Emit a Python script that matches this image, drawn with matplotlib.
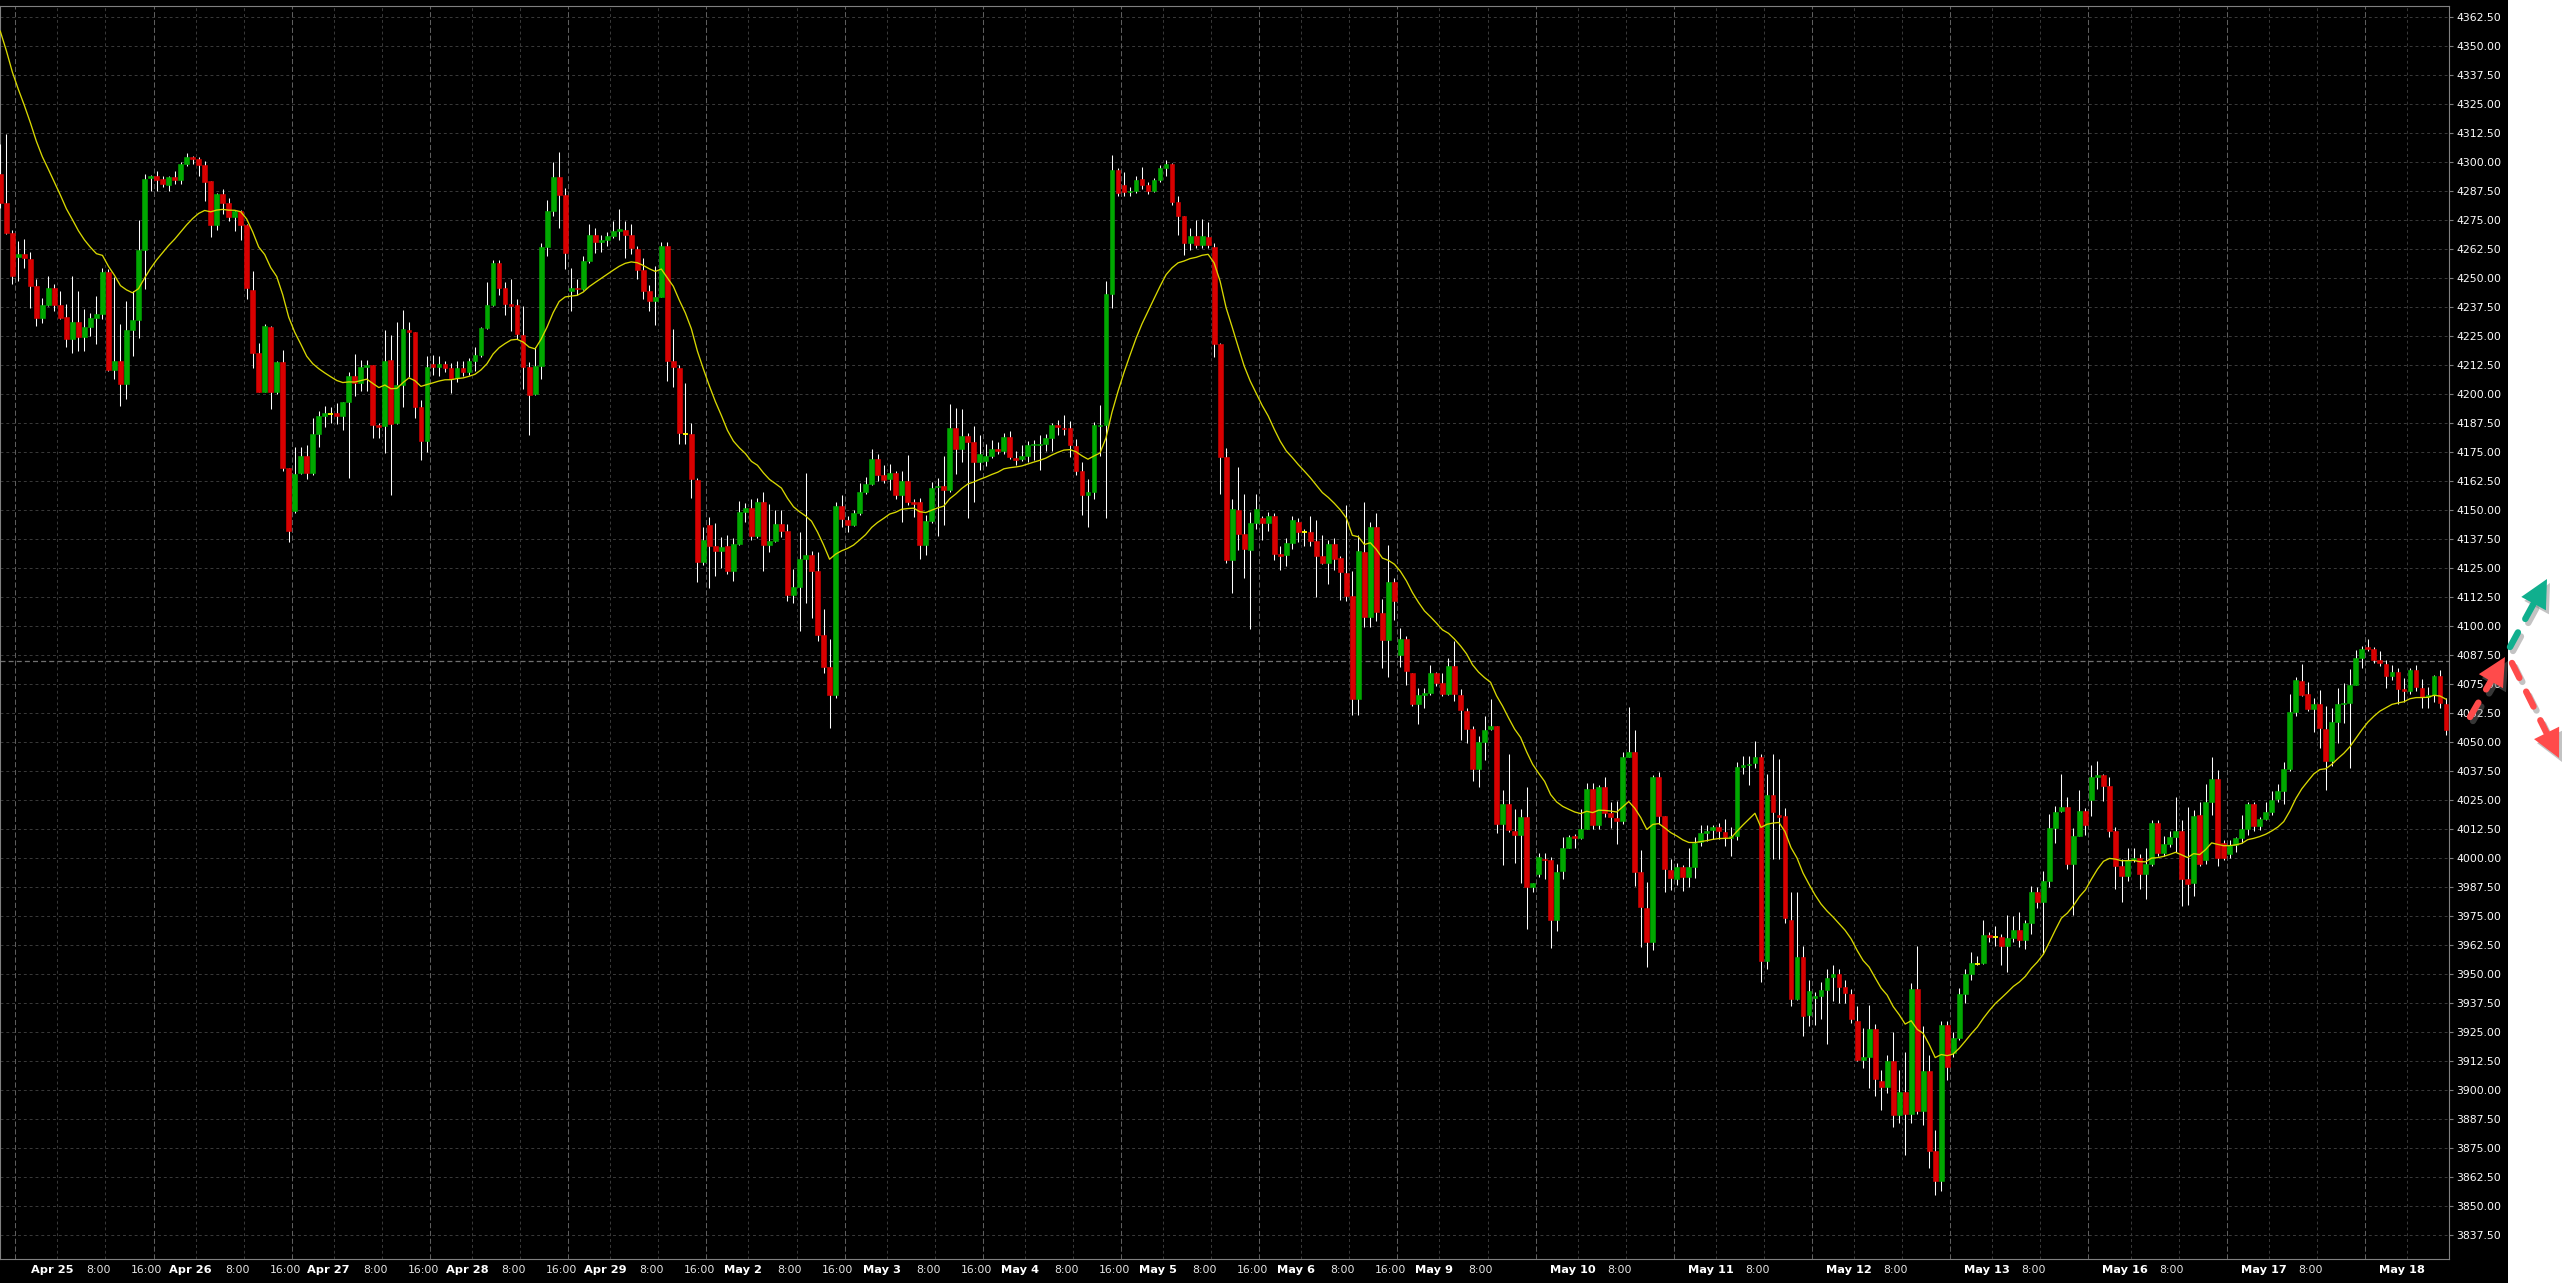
"""
plot.py
Hourly ES futures candles (Apr 22 - May 18) with EMA-20, MT4-style black chart.
"""

import numpy as np
import pandas as pd
import matplotlib
matplotlib.use("Agg")
import matplotlib.pyplot as plt
import matplotlib.transforms as mtransforms
from matplotlib.lines import Line2D
from matplotlib.patches import Polygon, Rectangle

# --- Data: hourly OHLC, one line per trading day (Apr 22 tail, Apr 25 ... May 18) ---
opens = [
    4294.7, 4282.2, 4269.3,
    4258.8, 4260.2, 4258.3, 4246.3, 4232.9, 4238.3, 4245.5, 4238.3, 4233.2, 4223.6, 4231.0, 4224.6, 4228.9, 4232.9, 4234.3, 4252.6, 4210.2, 4214.2, 4204.4, 4227.4, 4231.7, 4262.1, 4293.0,
    4294.0, 4292.5, 4290.1, 4293.5, 4292.2, 4299.0, 4302.2, 4301.3, 4298.7, 4291.8, 4272.8, 4286.3, 4282.3, 4276.0, 4278.6, 4272.8, 4244.7, 4217.4, 4201.0, 4228.9, 4201.0, 4213.8, 4167.9,
    4149.5, 4166.0, 4173.2, 4166.0, 4182.6, 4190.4, 4191.5, 4191.8, 4190.6, 4196.5, 4207.8, 4204.6, 4211.6, 4212.3, 4186.8, 4186.2, 4214.7, 4187.6, 4203.8, 4227.7, 4226.7, 4194.2, 4179.8,
    4213.0, 4211.6, 4213.0, 4211.2, 4206.7, 4211.2, 4209.5, 4214.2, 4216.8, 4228.4, 4238.4, 4256.5, 4245.7, 4238.8, 4238.3, 4225.4, 4211.6, 4199.8, 4211.9, 4263.4, 4278.7, 4293.4, 4285.6,
    4244.2, 4245.7, 4245.2, 4257.3, 4268.4, 4265.3, 4266.5, 4268.1, 4270.2, 4270.5, 4268.3, 4262.4, 4253.2, 4244.5, 4240.2, 4241.9, 4263.6, 4214.2, 4211.2, 4182.8, 4182.8, 4163.0, 4127.5,
    4143.6, 4134.4, 4132.2, 4134.4, 4123.9, 4135.3, 4149.2, 4151.0, 4138.9, 4153.4, 4134.8, 4136.6, 4143.8, 4141.1, 4113.5, 4116.6, 4128.9, 4130.4, 4123.5, 4096.0, 4082.4, 4070.1, 4151.6,
    4145.6, 4143.4, 4148.5, 4157.9, 4161.2, 4171.9, 4165.2, 4163.4, 4165.9, 4156.5, 4162.5, 4153.4, 4153.4, 4134.8, 4145.3, 4159.7, 4160.5, 4158.7, 4185.1, 4176.4, 4181.9, 4179.3, 4170.6,
    4171.0, 4173.3, 4176.1, 4175.5, 4181.5, 4172.4, 4172.1, 4173.2, 4177.9, 4177.9, 4178.6, 4181.2, 4186.6, 4185.5, 4185.1, 4177.5, 4166.6, 4156.5, 4157.9, 4186.1, 4186.6, 4243.1, 4296.6,
    4289.9, 4287.0, 4287.5, 4292.4, 4289.9, 4287.5, 4292.0, 4297.1, 4298.9, 4282.6, 4276.6, 4264.8, 4268.1, 4264.0, 4267.6, 4263.4, 4221.4, 4172.9, 4128.5, 4149.8, 4139.7, 4132.7, 4144.3,
    4146.6, 4144.4, 4147.5, 4131.0, 4130.7, 4135.9, 4144.9, 4140.3, 4140.3, 4136.6, 4130.2, 4127.2, 4135.2, 4129.2, 4122.7, 4113.1, 4068.5, 4131.9, 4103.7, 4142.8, 4105.4, 4093.8, 4118.8,
    4087.3, 4094.5, 4079.6, 4066.5, 4070.4, 4071.2, 4079.9, 4075.4, 4070.7, 4082.8, 4070.2, 4063.2, 4055.6, 4038.4, 4050.1, 4055.6, 4056.8, 4014.6, 4023.3, 4011.6, 4009.9, 4017.6, 3987.4,
    3993.1, 3999.8, 3999.2, 3973.5, 3994.5, 4004.5, 4009.5, 4008.7, 4012.6, 4029.7, 4014.2, 4030.5, 4019.3, 4017.1, 4015.9, 4043.4, 4045.9, 3994.1, 3978.6, 3964.0, 4035.0, 4018.3, 3994.8,
    3990.8, 3996.1, 3991.9, 3996.1, 4007.0, 4010.9, 4012.1, 4013.3, 4011.1, 4008.8, 4009.7, 4039.2, 4040.2, 4040.8, 4043.5, 3955.6, 4027.3, 4018.6, 4018.2, 3973.4, 3939.1, 3957.2, 3932.5,
    3939.9, 3940.4, 3943.0, 3949.0, 3950.2, 3944.4, 3941.5, 3930.0, 3913.0, 3914.3, 3926.2, 3904.1, 3901.5, 3912.4, 3889.3, 3899.2, 3889.9, 3943.7, 3890.9, 3908.1, 3873.9, 3860.8, 3927.9,
    3916.0, 3922.6, 3941.6, 3950.1, 3954.4, 3954.8, 3966.8, 3966.1, 3966.1, 3962.2, 3965.5, 3969.1, 3964.6, 3972.1, 3985.6, 3981.1, 3990.2, 4013.0, 4020.2, 4022.0, 3997.6, 4009.7, 4020.2,
    4025.2, 4035.1, 4035.6, 4031.0, 4011.6, 3996.5, 3992.2, 3999.3, 4000.1, 3993.2, 3997.6, 4015.3, 4002.1, 4005.9, 4009.2, 4011.7, 3991.1, 3989.2, 4018.6, 3999.0, 4024.3, 4033.9, 4006.4,
    4001.8, 4005.7, 4008.6, 4012.4, 4023.3, 4013.9, 4016.7, 4019.8, 4025.3, 4029.1, 4038.4, 4062.8, 4076.4, 4070.6, 4064.2, 4066.3, 4055.6, 4042.0, 4058.5, 4066.3, 4066.9, 4074.5, 4086.0,
    4091.0, 4090.3, 4085.3, 4083.8, 4078.5, 4080.1, 4072.8, 4072.2, 4081.0, 4073.5, 4069.5, 4070.2, 4078.4, 4066.6,
]
highs = [
    4307.6, 4311.9, 4270.5,
    4266.0, 4266.7, 4261.3, 4249.4, 4241.5, 4250.9, 4247.3, 4244.4, 4238.7, 4250.9, 4244.4, 4236.5, 4235.0, 4242.2, 4254.4, 4254.0, 4250.2, 4230.0, 4240.1, 4244.4, 4274.9, 4294.7, 4294.4,
    4296.1, 4294.0, 4294.0, 4296.1, 4299.7, 4303.6, 4302.6, 4302.2, 4300.4, 4291.8, 4286.7, 4288.1, 4284.6, 4279.2, 4279.2, 4273.0, 4253.0, 4222.1, 4230.0, 4229.3, 4214.2, 4218.8, 4168.0,
    4176.9, 4176.9, 4177.8, 4189.4, 4192.5, 4194.6, 4194.2, 4196.0, 4196.5, 4209.5, 4217.1, 4214.7, 4214.7, 4212.3, 4187.3, 4227.7, 4225.4, 4231.0, 4236.2, 4231.0, 4226.7, 4197.3, 4216.4,
    4216.8, 4216.4, 4214.3, 4213.3, 4214.2, 4214.3, 4215.4, 4220.2, 4228.9, 4248.0, 4257.5, 4257.5, 4248.0, 4249.5, 4241.0, 4237.9, 4213.6, 4220.2, 4264.8, 4283.4, 4299.7, 4304.0, 4288.7,
    4254.3, 4249.7, 4259.3, 4273.1, 4271.4, 4268.4, 4269.7, 4274.3, 4279.5, 4274.3, 4273.1, 4263.6, 4258.7, 4247.1, 4254.9, 4265.3, 4265.3, 4228.0, 4212.4, 4204.6, 4187.3, 4163.9, 4142.6,
    4147.1, 4144.3, 4138.2, 4139.1, 4138.0, 4154.0, 4152.9, 4154.7, 4155.2, 4157.9, 4152.5, 4149.8, 4149.8, 4143.8, 4124.4, 4140.7, 4166.1, 4132.2, 4131.7, 4107.2, 4094.2, 4153.4, 4156.5,
    4147.4, 4149.8, 4161.6, 4164.3, 4176.4, 4174.2, 4169.2, 4169.7, 4166.6, 4166.6, 4173.7, 4154.7, 4155.2, 4148.0, 4161.9, 4163.7, 4173.3, 4195.6, 4193.8, 4193.3, 4183.3, 4186.0, 4182.4,
    4178.2, 4180.0, 4179.3, 4183.3, 4184.2, 4175.2, 4177.9, 4179.7, 4180.0, 4182.4, 4182.9, 4187.3, 4188.7, 4190.9, 4188.4, 4180.6, 4170.6, 4163.4, 4187.8, 4195.1, 4248.5, 4302.9, 4297.5,
    4295.6, 4289.3, 4293.8, 4297.8, 4291.1, 4292.9, 4298.4, 4300.7, 4299.6, 4285.1, 4276.6, 4271.5, 4274.8, 4275.4, 4273.9, 4264.8, 4222.0, 4176.8, 4154.5, 4168.7, 4156.7, 4149.0, 4156.7,
    4147.3, 4149.0, 4148.6, 4134.4, 4137.7, 4147.3, 4146.6, 4141.6, 4147.3, 4145.6, 4139.4, 4136.9, 4137.7, 4130.2, 4152.3, 4123.5, 4139.4, 4153.3, 4145.0, 4148.6, 4111.8, 4134.9, 4120.5,
    4099.2, 4095.8, 4079.9, 4073.2, 4073.2, 4083.3, 4080.3, 4079.9, 4086.3, 4093.7, 4072.9, 4064.5, 4056.8, 4052.8, 4061.2, 4068.5, 4056.8, 4029.3, 4044.7, 4021.3, 4021.3, 4030.5, 3989.4,
    4002.0, 4002.0, 4000.3, 3997.5, 4009.2, 4009.9, 4010.4, 4021.3, 4032.2, 4032.2, 4031.3, 4035.0, 4024.0, 4024.6, 4045.6, 4065.2, 4055.1, 4003.7, 3989.8, 4036.0, 4037.2, 4018.3, 3999.5,
    3997.8, 3997.0, 4004.5, 4009.2, 4014.2, 4014.3, 4014.1, 4015.0, 4016.9, 4013.3, 4041.3, 4043.8, 4043.8, 4050.4, 4045.0, 4036.4, 4045.0, 4042.6, 4021.5, 3985.3, 3985.3, 3962.2, 3947.3,
    3942.4, 3946.5, 3952.3, 3954.0, 3952.3, 3947.7, 3943.7, 3936.1, 3926.7, 3936.6, 3928.4, 3908.6, 3915.2, 3925.1, 3908.6, 3916.3, 3946.0, 3962.2, 3927.5, 3915.2, 3883.0, 3930.0, 3930.0,
    3925.1, 3944.0, 3952.3, 3959.7, 3958.0, 3973.4, 3968.0, 3970.8, 3967.4, 3975.4, 3975.0, 3977.0, 3973.4, 3988.2, 3987.7, 3994.3, 4019.1, 4022.4, 4036.1, 4026.5, 4013.0, 4029.5, 4021.5,
    4040.0, 4042.0, 4036.4, 4035.1, 4013.3, 3999.8, 4004.2, 4004.2, 4001.7, 4004.2, 4016.3, 4016.6, 4009.7, 4011.6, 4026.5, 4016.5, 4021.9, 4020.8, 4024.3, 4031.9, 4043.4, 4037.9, 4007.9,
    4007.6, 4009.3, 4018.6, 4024.3, 4024.3, 4017.9, 4024.3, 4029.1, 4031.9, 4041.5, 4070.6, 4078.1, 4083.5, 4076.0, 4068.8, 4072.4, 4065.5, 4064.5, 4073.5, 4075.5, 4081.3, 4089.6, 4091.3,
    4094.6, 4091.0, 4089.3, 4085.3, 4083.1, 4082.1, 4077.4, 4082.1, 4083.1, 4077.0, 4073.8, 4078.8, 4081.0, 4068.8,
]
lows = [
    4280.0, 4269.0, 4247.3,
    4248.7, 4254.4, 4237.2, 4229.3, 4230.7, 4237.9, 4235.8, 4232.2, 4220.0, 4217.8, 4218.5, 4218.5, 4225.0, 4221.4, 4232.2, 4209.9, 4206.3, 4194.8, 4198.0, 4216.4, 4224.0, 4245.1, 4287.5,
    4287.5, 4289.2, 4287.2, 4290.6, 4290.6, 4298.3, 4299.0, 4294.0, 4283.2, 4267.4, 4270.5, 4277.4, 4274.5, 4270.3, 4266.3, 4240.8, 4211.3, 4200.6, 4200.6, 4193.4, 4199.9, 4166.8, 4136.1,
    4148.8, 4165.6, 4163.4, 4165.1, 4176.9, 4185.9, 4187.3, 4187.0, 4184.5, 4163.9, 4199.1, 4201.2, 4201.2, 4181.0, 4181.0, 4174.6, 4156.6, 4187.0, 4194.2, 4207.2, 4189.4, 4171.7, 4175.0,
    4208.1, 4207.8, 4209.5, 4200.3, 4205.0, 4207.8, 4208.1, 4209.8, 4216.0, 4228.0, 4237.9, 4242.8, 4234.1, 4227.2, 4223.7, 4202.0, 4182.4, 4199.4, 4206.4, 4259.3, 4276.6, 4271.4, 4254.0,
    4235.5, 4242.4, 4244.9, 4256.3, 4260.5, 4261.0, 4263.6, 4267.1, 4266.2, 4258.7, 4260.1, 4249.7, 4241.0, 4235.8, 4229.8, 4241.9, 4205.5, 4202.9, 4178.3, 4178.3, 4155.2, 4118.8, 4126.2,
    4116.5, 4121.4, 4124.9, 4122.3, 4119.5, 4134.8, 4144.9, 4137.1, 4138.0, 4123.9, 4131.7, 4136.2, 4138.4, 4110.8, 4109.9, 4097.8, 4109.9, 4103.6, 4093.6, 4079.6, 4056.2, 4068.8, 4142.5,
    4140.7, 4143.1, 4148.0, 4157.0, 4160.7, 4162.5, 4161.6, 4158.8, 4154.7, 4144.9, 4152.1, 4147.1, 4128.9, 4130.4, 4144.3, 4138.9, 4143.4, 4157.9, 4165.5, 4170.6, 4146.7, 4153.4, 4167.4,
    4168.8, 4172.5, 4174.2, 4174.2, 4172.1, 4169.2, 4171.0, 4170.6, 4171.5, 4167.4, 4175.2, 4175.2, 4182.4, 4182.4, 4172.8, 4165.2, 4148.0, 4142.5, 4154.7, 4173.3, 4146.7, 4236.8, 4285.1,
    4285.1, 4285.1, 4286.6, 4288.4, 4286.2, 4287.0, 4291.1, 4293.8, 4281.2, 4268.5, 4259.8, 4262.1, 4262.7, 4263.0, 4263.0, 4215.9, 4157.0, 4127.2, 4114.3, 4132.7, 4120.5, 4098.7, 4141.9,
    4136.9, 4141.1, 4128.5, 4124.3, 4126.0, 4133.2, 4136.1, 4134.4, 4134.4, 4112.6, 4126.8, 4118.1, 4124.3, 4111.4, 4110.9, 4061.8, 4061.8, 4099.7, 4099.7, 4102.0, 4082.0, 4077.9, 4102.5,
    4082.4, 4074.6, 4065.7, 4057.8, 4064.8, 4070.2, 4074.1, 4069.9, 4070.2, 4067.9, 4051.1, 4049.8, 4033.3, 4030.5, 4042.2, 4055.1, 4010.9, 3997.0, 4011.2, 3997.8, 3989.4, 3969.3, 3985.3,
    3992.0, 3990.8, 3961.3, 3968.5, 3990.8, 4004.2, 4004.2, 4008.2, 4012.6, 4012.6, 4012.6, 4017.9, 4012.9, 4005.9, 4014.9, 4043.4, 3987.8, 3961.8, 3952.9, 3960.6, 4014.6, 3985.3, 3986.4,
    3988.6, 3986.0, 3987.7, 3991.5, 4005.4, 4007.5, 4008.3, 4008.3, 4005.4, 4000.9, 4008.0, 4036.4, 4031.4, 4038.8, 3946.8, 3952.3, 3999.8, 3999.8, 3972.1, 3936.1, 3938.8, 3923.4, 3927.5,
    3927.9, 3930.8, 3920.1, 3938.3, 3937.8, 3937.8, 3928.9, 3912.4, 3909.7, 3900.8, 3897.5, 3891.3, 3898.7, 3884.3, 3886.0, 3872.3, 3886.0, 3889.9, 3885.0, 3866.5, 3855.0, 3856.6, 3904.4,
    3914.3, 3921.8, 3937.4, 3947.3, 3954.0, 3954.3, 3963.8, 3962.2, 3953.9, 3951.0, 3963.8, 3961.9, 3960.9, 3967.4, 3978.7, 3958.9, 3987.7, 4006.4, 4019.9, 3995.1, 3975.7, 4009.7, 4010.0,
    4018.3, 4029.8, 4024.8, 4009.2, 3986.6, 3981.1, 3990.2, 3998.4, 3986.6, 3982.3, 3996.8, 4000.9, 4000.9, 4005.0, 4002.6, 3979.2, 3979.9, 3983.5, 3996.7, 3997.5, 4018.6, 3996.7, 3999.2,
    3999.9, 4002.8, 4006.4, 4010.0, 4011.9, 4012.0, 4016.5, 4018.6, 4024.0, 4023.3, 4037.7, 4061.2, 4070.0, 4063.5, 4054.4, 4047.3, 4029.4, 4039.7, 4049.7, 4058.3, 4038.7, 4074.5, 4082.1,
    4089.3, 4084.1, 4082.7, 4073.5, 4076.6, 4066.3, 4067.3, 4070.9, 4072.1, 4064.5, 4064.5, 4067.3, 4064.5, 4053.0,
]
closes = [
    4282.2, 4269.3, 4250.9,
    4260.2, 4258.5, 4246.3, 4232.9, 4238.3, 4245.5, 4238.3, 4232.9, 4223.6, 4231.0, 4224.6, 4228.9, 4232.9, 4234.3, 4252.6, 4210.3, 4214.2, 4204.4, 4227.4, 4231.7, 4262.1, 4292.5, 4294.0,
    4292.3, 4290.4, 4293.6, 4292.2, 4299.0, 4302.2, 4301.4, 4298.7, 4291.4, 4272.8, 4286.3, 4282.3, 4276.0, 4278.6, 4272.8, 4245.5, 4217.4, 4201.0, 4229.3, 4201.0, 4213.8, 4168.2, 4140.8,
    4165.3, 4173.2, 4166.0, 4182.6, 4190.4, 4191.8, 4191.5, 4190.6, 4196.5, 4207.8, 4204.6, 4211.6, 4212.3, 4186.8, 4185.9, 4214.2, 4187.1, 4203.8, 4228.1, 4226.7, 4194.2, 4179.8, 4211.6,
    4211.6, 4213.0, 4211.2, 4206.4, 4211.2, 4209.5, 4214.2, 4216.8, 4228.4, 4238.4, 4256.5, 4245.7, 4238.8, 4237.9, 4226.0, 4211.6, 4199.4, 4211.9, 4263.4, 4278.7, 4293.4, 4285.6, 4260.5,
    4245.7, 4245.2, 4257.3, 4268.4, 4265.3, 4266.5, 4268.1, 4270.2, 4270.9, 4268.3, 4262.7, 4253.2, 4244.2, 4240.2, 4241.9, 4263.6, 4214.2, 4211.6, 4183.3, 4182.8, 4163.4, 4127.5, 4137.0,
    4134.4, 4132.2, 4133.9, 4123.9, 4135.3, 4148.9, 4151.0, 4138.9, 4153.4, 4134.8, 4136.6, 4143.8, 4141.1, 4113.5, 4116.6, 4128.9, 4130.4, 4123.5, 4096.0, 4082.4, 4070.1, 4151.6, 4146.2,
    4143.4, 4148.5, 4157.9, 4161.2, 4171.9, 4165.2, 4162.8, 4165.9, 4156.5, 4162.5, 4153.4, 4152.5, 4134.8, 4145.3, 4159.4, 4160.5, 4158.7, 4185.1, 4176.4, 4181.9, 4179.3, 4170.6, 4173.9,
    4173.3, 4176.1, 4175.5, 4181.5, 4172.8, 4171.5, 4173.2, 4177.9, 4178.4, 4178.6, 4181.2, 4186.6, 4185.8, 4184.8, 4177.9, 4166.6, 4156.5, 4157.9, 4186.4, 4186.6, 4243.1, 4296.6, 4286.6,
    4287.0, 4287.5, 4292.0, 4290.2, 4287.5, 4292.0, 4297.1, 4298.9, 4282.6, 4276.6, 4264.8, 4268.1, 4264.0, 4268.1, 4264.0, 4221.4, 4172.8, 4128.5, 4150.3, 4139.7, 4133.2, 4144.3, 4150.6,
    4144.4, 4147.5, 4131.0, 4130.2, 4135.9, 4145.6, 4140.6, 4140.3, 4136.6, 4130.2, 4127.2, 4135.2, 4128.9, 4123.2, 4113.1, 4068.5, 4132.2, 4103.7, 4142.8, 4105.9, 4093.8, 4118.8, 4110.9,
    4094.5, 4080.4, 4066.5, 4070.4, 4071.2, 4079.9, 4075.4, 4070.7, 4082.8, 4070.7, 4063.7, 4055.6, 4038.4, 4050.1, 4055.1, 4056.8, 4014.6, 4023.3, 4012.1, 4009.9, 4017.6, 3987.4, 3989.1,
    4000.3, 3999.2, 3973.5, 3994.1, 4004.2, 4009.2, 4008.7, 4012.6, 4029.7, 4014.2, 4030.5, 4019.6, 4017.6, 4015.9, 4043.4, 4045.9, 3994.1, 3979.1, 3964.0, 4035.0, 4018.3, 3995.3, 3991.5,
    3996.1, 3991.9, 3996.1, 4006.5, 4010.9, 4011.6, 4013.3, 4011.6, 4009.2, 4009.7, 4039.2, 4040.2, 4040.7, 4043.5, 3955.6, 4027.3, 4019.9, 4017.9, 3974.0, 3939.1, 3957.5, 3932.2, 3942.7,
    3940.4, 3943.0, 3948.5, 3950.2, 3944.4, 3942.0, 3930.5, 3913.0, 3914.3, 3926.2, 3904.8, 3901.5, 3912.4, 3889.3, 3899.2, 3889.9, 3943.7, 3890.9, 3908.1, 3873.9, 3860.8, 3927.9, 3910.2,
    3922.6, 3941.6, 3950.1, 3954.8, 3954.4, 3966.8, 3966.1, 3966.1, 3962.2, 3965.5, 3969.1, 3964.6, 3972.1, 3985.6, 3981.1, 3990.2, 4013.0, 4019.9, 4022.0, 3997.3, 4009.7, 4020.2, 4014.1,
    4035.1, 4035.7, 4031.0, 4011.6, 3996.8, 3992.2, 3999.3, 4000.1, 3993.2, 3997.6, 4015.3, 4002.1, 4005.9, 4009.2, 4011.6, 3991.1, 3988.9, 4018.2, 3997.5, 4024.3, 4033.9, 3999.9, 3999.9,
    4005.7, 4008.6, 4012.4, 4023.3, 4013.9, 4016.7, 4019.8, 4025.1, 4029.1, 4038.4, 4062.8, 4076.7, 4070.2, 4064.2, 4066.3, 4055.9, 4042.0, 4058.5, 4066.3, 4066.9, 4074.5, 4086.0, 4090.3,
    4089.9, 4085.5, 4084.1, 4078.5, 4080.1, 4072.8, 4072.2, 4081.0, 4073.8, 4069.5, 4070.2, 4078.4, 4066.9, 4055.4,
]

day_labels = ['Apr 25', 'Apr 26', 'Apr 27', 'Apr 28', 'Apr 29', 'May 2', 'May 3', 'May 4', 'May 5',
              'May 6', 'May 9', 'May 10', 'May 11', 'May 12', 'May 13', 'May 16', 'May 17', 'May 18']
bars_before_first_day = 3      # Apr 22 tail
bars_per_day = 23
hour_labels = ['8:00', '16:00']
hour_offsets = [7, 15]         # bars after day start
n_days_with_8h = 17
n_days_with_16h = 10

ma_span = 20
ma_start = 4364.0              # MA level entering the window (read at left edge)
price_line = 4085.0            # dashed horizontal price line
y_ticks = np.arange(3837.5, 4362.51, 12.5)

# --- Colours ---
BG = '#000000'
GREEN = '#00A800'
RED = '#D80000'
MA_COL = '#D8D800'
DOJI_COL = '#FFFF00'
GRID = '#3a3a3a'
DAYGRID = '#5e5e5e'
SPINE = '#808080'

# --- Figure ---
W, H = 2562, 1283
fig = plt.figure(figsize=(W / 100, H / 100), dpi=100, facecolor='white')
fig.add_artist(Rectangle((0, 0), 2508 / W, 1, transform=fig.transFigure,
                         facecolor=BG, edgecolor='none', zorder=0))
ax = fig.add_axes([0, 24 / H, 2449 / W, 1253 / H], facecolor=BG)

o = np.array(opens)
h = np.array(highs)
l = np.array(lows)
c = np.array(closes)
x = np.arange(len(c))

up = c > o
dn = c < o
doji = c == o

# wicks behind bodies
ax.vlines(x, l, h, color='white', lw=0.75, zorder=3)
bw = 0.8
ax.bar(x[up], (c - o)[up], bottom=o[up], width=bw, color=GREEN,
       edgecolor=GREEN, lw=0.4, zorder=4)
ax.bar(x[dn], (o - c)[dn], bottom=c[dn], width=bw, color=RED,
       edgecolor=RED, lw=0.4, zorder=4)
ax.hlines(o[doji], x[doji] - bw / 2, x[doji] + bw / 2, color=DOJI_COL, lw=1.3, zorder=4)

# EMA(20) of closes
ma = pd.Series([ma_start] + closes).ewm(span=ma_span, adjust=False).mean().iloc[1:].values
ax.plot(x, ma, color=MA_COL, lw=0.95, zorder=5)

# price line
ax.axhline(price_line, color='#707070', lw=0.9, ls=(0, (4, 2.5)), zorder=2)

# --- Grid ---
for yv in y_ticks:
    ax.axhline(yv, color=GRID, lw=0.7, ls=(0, (3, 3)), zorder=1)

day_starts = [bars_before_first_day + bars_per_day * k for k in range(len(day_labels))]
for d in day_starts:
    ax.axvline(d - 0.5, color=DAYGRID, lw=0.75, ls=(0, (5, 2.5)), zorder=1)
    for off in hour_offsets:
        ax.axvline(d + off - 0.5, color=GRID, lw=0.7, ls=(0, (3, 3)), zorder=1)

ax.set_xlim(-0.05, 407.5)
ax.set_ylim(3827.3, 4367.1)

# --- Axes / ticks ---
for s in ax.spines.values():
    s.set_color(SPINE)
    s.set_linewidth(0.8)
ax.set_xticks([])
ax.yaxis.tick_right()
ax.set_yticks(y_ticks)
ax.set_yticklabels([f'{v:.2f}' for v in y_ticks])
ax.tick_params(axis='y', colors=SPINE, labelcolor='white', labelsize=7.8,
               length=3, width=0.8, pad=2)

# x labels (centered a little right of their grid line, like the terminal does)
tr = mtransforms.blended_transform_factory(ax.transData, ax.transAxes)
y_lab = -0.0088
for k, (d, lab) in enumerate(zip(day_starts, day_labels)):
    ax.text(d - 0.5 + 6.15, y_lab, lab, transform=tr, ha='center', va='center',
            fontsize=8.2, fontweight='bold', color='white', clip_on=False)
    if k < n_days_with_8h:
        ax.text(d + hour_offsets[0] - 0.5 + 6.9, y_lab, hour_labels[0], transform=tr,
                ha='center', va='center', fontsize=7.8, color='#e8e8e8', clip_on=False)
    if k < n_days_with_16h:
        ax.text(d + hour_offsets[1] - 0.5 + 6.9, y_lab, hour_labels[1], transform=tr,
                ha='center', va='center', fontsize=7.8, color='#e8e8e8', clip_on=False)

# --- Up / down arrows on the right margin (pixel coords, y down) ---
ARROW_GREEN = '#10AF8E'
ARROW_RED = '#FF4B4B'
arrows = [((2510, 647), (2547, 579), ARROW_GREEN),
          ((2470, 717), (2505, 657), ARROW_RED),
          ((2512, 663), (2559, 758), ARROW_RED)]
HEAD_LEN, HEAD_W = 28, 28


def fxy(px, py):
    return px / W, 1 - py / H


def draw_arrow(tail, tip, color):
    (x0, y0), (x1, y1) = tail, tip
    dx, dy = x1 - x0, y1 - y0
    n = np.hypot(dx, dy)
    ux, uy = dx / n, dy / n
    bx, by = x1 - ux * HEAD_LEN, y1 - uy * HEAD_LEN
    nx, ny = -uy, ux
    head = [(x1, y1), (bx + nx * HEAD_W / 2, by + ny * HEAD_W / 2),
            (bx - nx * HEAD_W / 2, by - ny * HEAD_W / 2)]
    for (ox, oy), col, alpha, z in [((3, 4), '#7a7a7a', 0.45, 10), ((0, 0), color, 1.0, 11)]:
        sx = [fxy(x0 + ox, y0 + oy)[0], fxy(bx + ox + ux * 2, by + oy + uy * 2)[0]]
        sy = [fxy(x0 + ox, y0 + oy)[1], fxy(bx + ox + ux * 2, by + oy + uy * 2)[1]]
        fig.add_artist(Line2D(sx, sy, transform=fig.transFigure, color=col, alpha=alpha,
                              lw=4.6, ls=(0, (2.6, 2.4)), dash_capstyle='round',
                              solid_capstyle='round', zorder=z))
        fig.add_artist(Polygon([fxy(px + ox, py + oy) for px, py in head], closed=True,
                               transform=fig.transFigure, facecolor=col, edgecolor='none',
                               alpha=alpha, zorder=z))


for tail, tip, col in arrows:
    draw_arrow(tail, tip, col)

fig.savefig('out.png', dpi=100, facecolor=fig.get_facecolor())
